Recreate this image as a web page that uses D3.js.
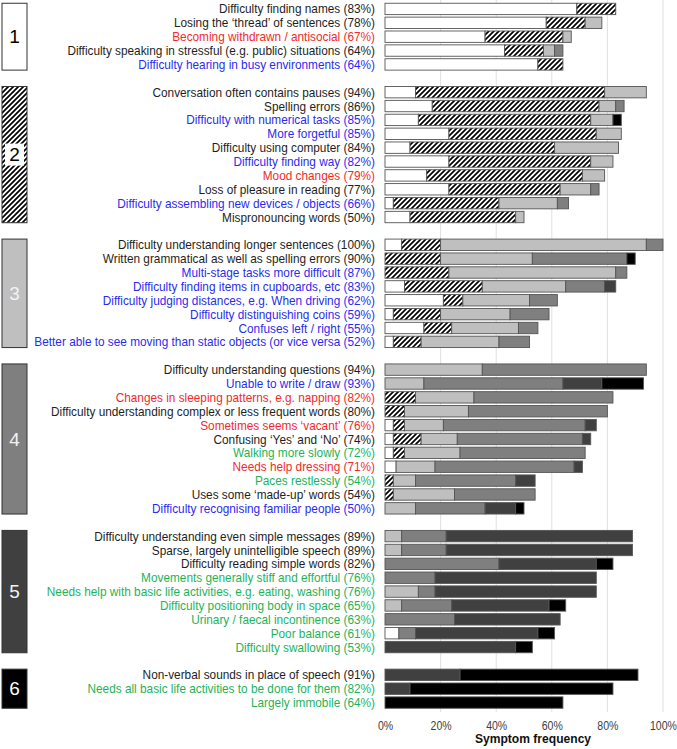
<!DOCTYPE html>
<html>
<head>
<meta charset="utf-8">
<script src="https://cdn.jsdelivr.net/npm/d3@7"></script>
<style>
  body { margin: 0; background: #fff; }
  svg { display: block; font-family: "Liberation Sans", Arial, sans-serif; }
</style>
</head>
<body>
<svg id="chart"></svg>
<script>
// symptom names, the (xx%) part is added from the stage sums
const labels = [
  "Difficulty finding names", "Losing the \u2018thread\u2019 of sentences", "Becoming withdrawn / antisocial",
  "Difficulty speaking in stressful (e.g. public) situations", "Difficulty hearing in busy environments",
  "Conversation often contains pauses", "Spelling errors", "Difficulty with numerical tasks", "More forgetful",
  "Difficulty using computer", "Difficulty finding way", "Mood changes", "Loss of pleasure in reading",
  "Difficulty assembling new devices / objects", "Mispronouncing words",
  "Difficulty understanding longer sentences", "Written grammatical as well as spelling errors",
  "Multi-stage tasks more difficult", "Difficulty finding items in cupboards, etc",
  "Difficulty judging distances, e.g.  When driving", "Difficulty distinguishing coins", "Confuses left / right",
  "Better able to see moving than static objects (or vice versa",
  "Difficulty understanding questions", "Unable to write / draw", "Changes in sleeping patterns, e.g. napping",
  "Difficulty understanding complex or less frequent words", "Sometimes seems \u2018vacant\u2019",
  "Confusing \u2018Yes\u2019 and \u2018No\u2019", "Walking more slowly", "Needs help dressing", "Paces restlessly",
  "Uses some \u2018made-up\u2019 words", "Difficulty recognising familiar people",
  "Difficulty understanding even simple messages", "Sparse, largely unintelligible speech",
  "Difficulty reading simple words", "Movements generally stiff and effortful",
  "Needs help with basic life activities, e.g. eating, washing", "Difficulty positioning body in space",
  "Urinary / faecal incontinence", "Poor balance", "Difficulty swallowing",
  "Non-verbal sounds in place of speech", "Needs all basic life activities to be done for them", "Largely immobile"
];
// k = language/other, b = visual/cognitive, r = behaviour, g = physical
const labelTone = [
  "k","k","r","k","b",
  "k","k","b","b","k","b","r","k","b","k",
  "k","k","b","b","b","b","b","b",
  "k","b","r","k","r","k","g","r","g","k","b",
  "k","k","k","g","g","g","g","g","g",
  "k","g","g"
];
const groupSizes = [5, 10, 8, 11, 9, 3];
const groupNames = ["1", "2", "3", "4", "5", "6"];

// percentage of people reporting the symptom at each stage
const stage1 = [69,58,36,43,55, 11,17,12,23,9,23,15,23,3,9, 6,0,0,7,21,3,14,3, 0,0,0,0,3,3,3,4,0,0,0, 0,0,0,0,0,0,0,5,0, 0,0,0];
const stage2 = [14,14,28,14,9, 68,60,62,53,52,51,56,40,38,38, 14,20,23,28,7,17,10,10, 0,0,11,7,4,10,4,0,3,3,0, 0,0,0,0,0,0,0,0,0, 0,0,0];
const stage3 = [0,6,3,4,0, 15,6,8,9,23,8,8,11,21,3, 74,33,60,30,24,25,24,28, 35,14,21,23,14,13,20,14,8,22,11, 6,6,0,0,12,6,0,0,0, 0,0,0];
const stage4 = [0,0,0,3,0, 0,3,0,0,0,0,0,3,4,0, 6,34,4,14,10,14,7,11, 59,50,50,50,51,45,45,50,36,29,25, 16,16,41,18,6,18,25,6,0, 0,0,0];
const stage5 = [0,0,0,0,0, 0,0,0,0,0,0,0,0,0,0, 0,0,0,4,0,0,0,0, 0,14,0,0,4,3,0,3,7,0,11, 67,67,35,58,58,35,38,44,47, 27,9,0];
const stage6 = [0,0,0,0,0, 0,0,3,0,0,0,0,0,0,0, 0,3,0,0,0,0,0,0, 0,15,0,0,0,0,0,0,0,0,3, 0,0,6,0,0,6,0,6,6, 64,73,64];

const xTicks = [0, 20, 40, 60, 80, 100];

const width = 677, height = 749;
const squeeze = 0.91; // the original uses a narrow font
const stageKeys = ["s1", "s2", "s3", "s4", "s5", "s6"];
const stageFill = ["#ffffff", "url(#hatch)", "#bfbfbf", "#7f7f7f", "#404040", "#000000"];
const toneColor = {k: "#1e1e1e", b: "#2b2bf0", r: "#f02b2b", g: "#1db35c"};
const boxFill = ["#ffffff", "url(#hatch)", "#bfbfbf", "#7f7f7f", "#404040", "#000000"];
const boxText = ["#000", "#000", "#f2f2f2", "#f2f2f2", "#f2f2f2", "#fff"];

function build_rows() {
  const rows = [];
  const slots = [];
  let i = 0;
  groupSizes.forEach((n, g) => {
    for (let j = 0; j < n; j++, i++) {
      rows.push({
        id: "r" + i, group: g, name: labels[i], tone: labelTone[i],
        s1: stage1[i], s2: stage2[i], s3: stage3[i], s4: stage4[i], s5: stage5[i], s6: stage6[i]
      });
      slots.push("r" + i);
    }
    if (g < groupSizes.length - 1) slots.push("gap" + g);
  });
  return [rows, slots];
}

function draw() {
  const [rows, slots] = build_rows();
  const svg = d3.select("#chart").attr("width", width).attr("height", height);

  const defs = svg.append("defs");
  const pat = defs.append("pattern")
    .attr("id", "hatch")
    .attr("patternUnits", "userSpaceOnUse")
    .attr("width", 5).attr("height", 5);
  pat.append("rect").attr("width", 5).attr("height", 5).attr("fill", "#fff");
  pat.append("path")
    .attr("d", "M-1,1 l2,-2 M0,5 l5,-5 M4,6 l2,-2")
    .attr("stroke", "#000").attr("stroke-width", 1.7);

  const x = d3.scaleLinear().domain([0, 100]).range([385, 663]);
  const y = d3.scaleBand().domain(slots).range([2, 709.5]).paddingInner(0.18).paddingOuter(0.09);

  // grid
  svg.append("g")
    .selectAll("line")
    .data(xTicks.slice(1))
    .enter().append("line")
    .attr("x1", d => x(d)).attr("x2", d => x(d))
    .attr("y1", 0).attr("y2", 712)
    .attr("stroke", "#e0e0e0").attr("stroke-width", 1);

  // stacked bars
  const series = d3.stack().keys(stageKeys)(rows);
  svg.append("g")
    .selectAll("g")
    .data(series)
    .enter().append("g")
    .attr("fill", (d, i) => stageFill[i])
    .selectAll("rect")
    .data(d => d.filter(p => p[1] > p[0]))
    .enter().append("rect")
    .attr("x", d => x(d[0]))
    .attr("width", d => x(d[1]) - x(d[0]))
    .attr("y", d => y(d.data.id))
    .attr("height", y.bandwidth())
    .attr("stroke", "#555")
    .attr("stroke-width", 0.9);

  // labels
  svg.append("g")
    .selectAll("text")
    .data(rows)
    .enter().append("text")
    .attr("transform", d => `translate(375,${y(d.id) + y.bandwidth() / 2}) scale(${squeeze},1)`)
    .attr("dy", "0.35em")
    .attr("text-anchor", "end")
    .attr("font-size", 13)
    .attr("fill", d => toneColor[d.tone])
    .text(d => {
      const total = stageKeys.reduce((s, k) => s + d[k], 0);
      return d.name + " (" + total + "%)";
    });

  // stage boxes on the left
  let start = 0;
  const boxes = groupSizes.map((n, g) => {
    const first = rows[start], last = rows[start + n - 1];
    start += n;
    return {g: g, y0: y(first.id), y1: y(last.id) + y.bandwidth()};
  });
  const box = svg.append("g").selectAll("g").data(boxes).enter().append("g");
  box.append("rect")
    .attr("x", 2).attr("width", 25)
    .attr("y", d => d.y0).attr("height", d => d.y1 - d.y0)
    .attr("fill", d => boxFill[d.g])
    .attr("stroke", "#333").attr("stroke-width", 1);
  box.filter(d => d.g === 1).append("rect")
    .attr("x", 5).attr("width", 19)
    .attr("y", d => (d.y0 + d.y1) / 2 - 11).attr("height", 22)
    .attr("fill", "#fff");
  box.append("text")
    .attr("x", 14.5)
    .attr("y", d => (d.y0 + d.y1) / 2)
    .attr("dy", "0.35em")
    .attr("text-anchor", "middle")
    .attr("font-size", 19)
    .attr("fill", d => boxText[d.g])
    .text(d => groupNames[d.g]);

  // axis
  const axis = svg.append("g")
    .attr("transform", "translate(0,712)")
    .call(d3.axisBottom(x).tickValues(xTicks).tickFormat(d => d + "%").tickSize(0).tickPadding(9));
  axis.select(".domain").remove();
  axis.selectAll("text")
    .attr("font-family", "Liberation Sans, Arial, sans-serif")
    .attr("font-size", 12)
    .attr("transform", `scale(0.88,1)`)
    .attr("fill", "#404040");

  svg.append("text")
    .attr("transform", `translate(533,743) scale(0.93,1)`)
    .attr("text-anchor", "middle")
    .attr("font-size", 13)
    .attr("font-weight", "bold")
    .attr("fill", "#111")
    .text("Symptom frequency");
}

draw();
</script>
</body>
</html>
